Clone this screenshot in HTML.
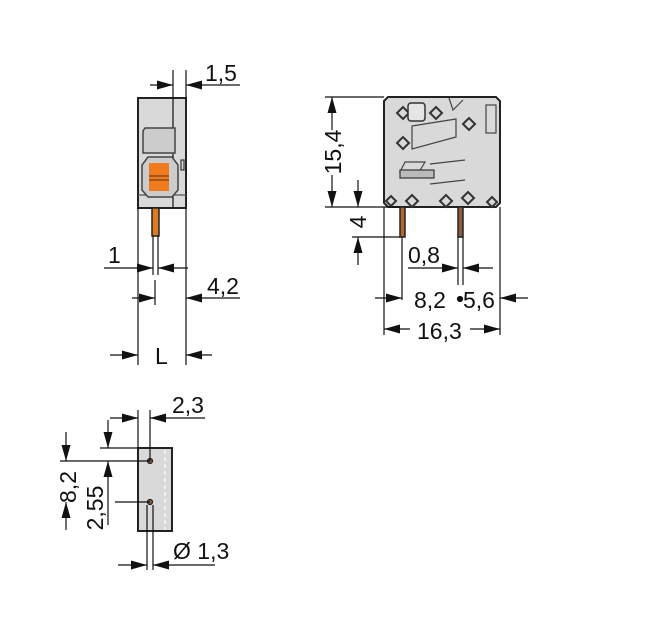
<!DOCTYPE html>
<html><head><meta charset="utf-8"><style>
html,body{margin:0;padding:0;background:#fff}
svg{display:block}
text{font-family:"Liberation Sans",sans-serif;font-size:23px;fill:#111}
</style></head><body>
<svg width="661" height="626" viewBox="0 0 661 626" xmlns="http://www.w3.org/2000/svg">
<defs>
<marker id="a" viewBox="0 0 16 9" refX="16" refY="4.5" markerWidth="16" markerHeight="9" markerUnits="userSpaceOnUse" orient="auto"><path d="M0,0 L16,4.5 L0,9 z" fill="#111"/></marker>
</defs>
<g stroke="#111" stroke-width="1.2" fill="none">
<!-- SIDE VIEW -->
<rect x="138" y="98" width="48" height="110" fill="#d9d9d9" stroke="#222" stroke-width="2"/>
<line x1="138" y1="195" x2="186" y2="195" stroke="#555"/>
<line x1="173" y1="70" x2="173" y2="208"/>
<line x1="186" y1="70" x2="186" y2="98"/>
<path d="M145,128 h30 v25 h-32 v-22 z" fill="#ccc" stroke="#444" stroke-width="1.5"/>
<path d="M148,157 h24 l6,8 v25 l-6,7 h-24 l-6,-7 v-25 z" fill="#ccc" stroke="#444" stroke-width="1.5"/>
<rect x="149" y="163" width="20" height="28" fill="#f07a1e" stroke="none"/>
<line x1="149" y1="176" x2="169" y2="176" stroke="#8a4b1a" stroke-width="1.5"/>
<line x1="149" y1="180" x2="169" y2="180" stroke="#8a4b1a" stroke-width="1.5"/>
<rect x="181" y="160" width="3" height="10" stroke="#333"/>
<rect x="152" y="208" width="7" height="28" fill="#e07a20" stroke="#222" stroke-width="1.5"/>
<line x1="153" y1="236" x2="153" y2="275"/><line x1="158" y1="236" x2="158" y2="275"/>
<line x1="138" y1="208" x2="138" y2="365"/>
<line x1="186" y1="208" x2="186" y2="365"/>
<line x1="155" y1="280" x2="155" y2="305"/>
<line x1="150" y1="85" x2="173" y2="85" marker-end="url(#a)"/>
<line x1="240" y1="85" x2="186" y2="85" marker-end="url(#a)"/>
<line x1="104" y1="268" x2="153" y2="268" marker-end="url(#a)"/>
<line x1="188" y1="268" x2="158" y2="268" marker-end="url(#a)"/>
<line x1="132" y1="298" x2="155" y2="298" marker-end="url(#a)"/>
<line x1="240" y1="298" x2="186" y2="298" marker-end="url(#a)"/>
<line x1="110" y1="355" x2="138" y2="355" marker-end="url(#a)"/>
<line x1="212" y1="355" x2="186" y2="355" marker-end="url(#a)"/>

<!-- FRONT VIEW -->
<path d="M388,97 h108 l4,4 v102 l-4,4 h-108 l-4,-4 v-102 z" fill="#d9d9d9" stroke="#222" stroke-width="2"/>
<g stroke="#333" stroke-width="2" fill="#d9d9d9">
<path d="M397,113 l6,-6 l6,6 l-6,6 z"/><path d="M430,113 l6,-6 l6,6 l-6,6 z"/>
<path d="M463,124 l6,-6 l6,6 l-6,6 z"/><path d="M397,143 l6,-6 l6,6 l-6,6 z"/>
<path d="M386,201 l5,-5 l5,5 l-5,5 z"/><path d="M406,201 l6,-6 l6,6 l-6,6 z"/>
<path d="M440,201 l6,-6 l6,6 l-6,6 z"/><path d="M462,198 l6,-6 l6,6 l-6,6 z"/>
<path d="M487,202 l5,-5 l5,5 l-5,5 z"/>
</g>
<rect x="408" y="103" width="17" height="18" rx="3" fill="#e5e5e5" stroke="#333" stroke-width="1.5"/>
<path d="M412,126 l44,-7 v18 l-44,12 z" stroke="#444"/>
<path d="M449,98 l4,12 l10,-10" stroke="#444"/>
<rect x="486" y="105" width="10" height="28" stroke="#444"/>
<path d="M400,172 l5,-10 l20,0 l-6,10 z" stroke="#444"/>
<rect x="400" y="170" width="34" height="8" fill="#bbb" stroke="#333"/>
<line x1="430" y1="164" x2="465" y2="160" stroke="#444"/>
<line x1="430" y1="184" x2="465" y2="180" stroke="#444"/>
<rect x="400" y="207" width="5" height="30" fill="#b06830" stroke="#222" stroke-width="1.5"/>
<rect x="458" y="207" width="5" height="30" fill="#8a6040" stroke="#222" stroke-width="1.5"/>
<line x1="458" y1="237" x2="458" y2="285"/><line x1="463" y1="237" x2="463" y2="285"/>
<circle cx="460" cy="299" r="2.5" fill="#111"/>
<line x1="325" y1="97" x2="384" y2="97"/>
<line x1="325" y1="207" x2="400" y2="207"/>
<line x1="352" y1="237" x2="400" y2="237"/>
<line x1="402" y1="237" x2="402" y2="300"/>
<line x1="384" y1="207" x2="384" y2="335"/>
<line x1="500" y1="207" x2="500" y2="335"/>
<line x1="332" y1="130" x2="332" y2="97" marker-end="url(#a)"/>
<line x1="332" y1="175" x2="332" y2="207" marker-end="url(#a)"/>
<line x1="358" y1="180" x2="358" y2="207" marker-end="url(#a)"/>
<line x1="358" y1="265" x2="358" y2="237" marker-end="url(#a)"/>
<line x1="408" y1="268" x2="458" y2="268" marker-end="url(#a)"/>
<line x1="493" y1="268" x2="463" y2="268" marker-end="url(#a)"/>
<line x1="375" y1="298" x2="402" y2="298" marker-end="url(#a)"/>
<line x1="528" y1="298" x2="500" y2="298" marker-end="url(#a)"/>
<line x1="410" y1="329" x2="384" y2="329" marker-end="url(#a)"/>
<line x1="470" y1="329" x2="500" y2="329" marker-end="url(#a)"/>

<!-- BOTTOM VIEW -->
<rect x="138" y="448" width="34" height="83" fill="#d9d9d9" stroke="#222" stroke-width="2"/>
<line x1="165" y1="450" x2="165" y2="530" stroke="#fff" stroke-dasharray="4,3"/>
<circle cx="150" cy="461" r="2.5" fill="#8a6040" stroke="#222"/>
<circle cx="150" cy="502" r="2.5" fill="#8a6040" stroke="#222"/>
<line x1="138" y1="410" x2="138" y2="448"/>
<line x1="150" y1="410" x2="150" y2="461"/>
<line x1="100" y1="448" x2="138" y2="448"/>
<line x1="60" y1="461" x2="150" y2="461"/>
<line x1="115" y1="502" x2="150" y2="502"/>
<line x1="147" y1="505" x2="147" y2="570"/><line x1="153" y1="505" x2="153" y2="570"/>
<line x1="110" y1="418" x2="138" y2="418" marker-end="url(#a)"/>
<line x1="205" y1="418" x2="150" y2="418" marker-end="url(#a)"/>
<line x1="66" y1="432" x2="66" y2="461" marker-end="url(#a)"/>
<line x1="66" y1="530" x2="66" y2="502" marker-end="url(#a)"/>
<line x1="108" y1="420" x2="108" y2="448" marker-end="url(#a)"/>
<line x1="108" y1="525" x2="108" y2="461" marker-end="url(#a)"/>
<line x1="118" y1="565" x2="147" y2="565" marker-end="url(#a)"/>
<line x1="215" y1="565" x2="153" y2="565" marker-end="url(#a)"/>
</g>
<g>
<text x="205" y="81">1,5</text>
<text x="108" y="263">1</text>
<text x="207" y="294">4,2</text>
<text x="155" y="364">L</text>
<text x="0" y="0" transform="translate(341,152) rotate(-90)" text-anchor="middle">15,4</text>
<text x="0" y="0" transform="translate(366,222) rotate(-90)" text-anchor="middle">4</text>
<text x="408" y="263">0,8</text>
<text x="414" y="308">8,2</text>
<text x="463" y="308">5,6</text>
<text x="417" y="339">16,3</text>
<text x="172" y="413">2,3</text>
<text x="0" y="0" transform="translate(76,487) rotate(-90)" text-anchor="middle">8,2</text>
<text x="0" y="0" transform="translate(103,508) rotate(-90)" text-anchor="middle">2,55</text>
<text x="173" y="559">Ø 1,3</text>
</g>
</svg>
</body></html>
